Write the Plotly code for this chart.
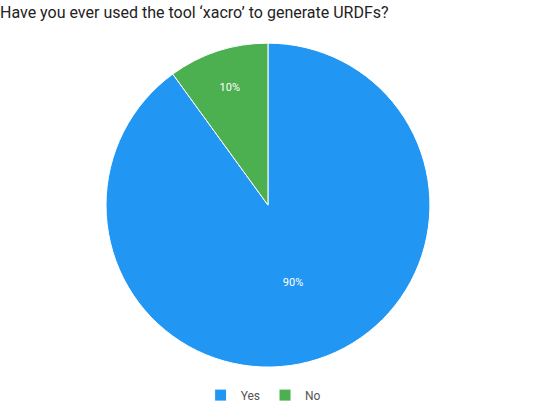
import plotly.graph_objects as go

labels = ["Yes", "No"]
values = [90, 10]
colors = ["#2196F3", "#4CAF50"]

fig = go.Figure()
fig.add_trace(go.Pie(
    labels=labels,
    values=values,
    marker=dict(colors=colors, line=dict(color="white", width=1)),
    sort=False,
    direction="clockwise",
    rotation=0,
    textinfo="percent",
    textposition="inside",
    insidetextorientation="horizontal",
    textfont=dict(family="Roboto", size=11, color="white"),
    domain=dict(x=[0.197, 0.801], y=[0.124, 0.897]),
    hoverinfo="label+percent",
))

fig.update_layout(
    width=537, height=419,
    margin=dict(l=0, r=0, t=0, b=0),
    paper_bgcolor="white",
    font=dict(family="Roboto", color="#444"),
    title=dict(text="Have you ever used the tool ‘xacro’ to generate URDFs?",
               x=0.0, xanchor="left", y=0.971, yanchor="middle",
               font=dict(family="Roboto", size=16, color="#222")),
    legend=dict(orientation="h", x=0.49, xanchor="center", y=0.057, yanchor="middle",
                font=dict(size=12, color="#555"), itemwidth=30),
)

# drop the default page margin so the figure sits at the window's corner
fig.write_html("out.html", config={"displayModeBar": False},
               post_script="document.body.style.margin='0';")
